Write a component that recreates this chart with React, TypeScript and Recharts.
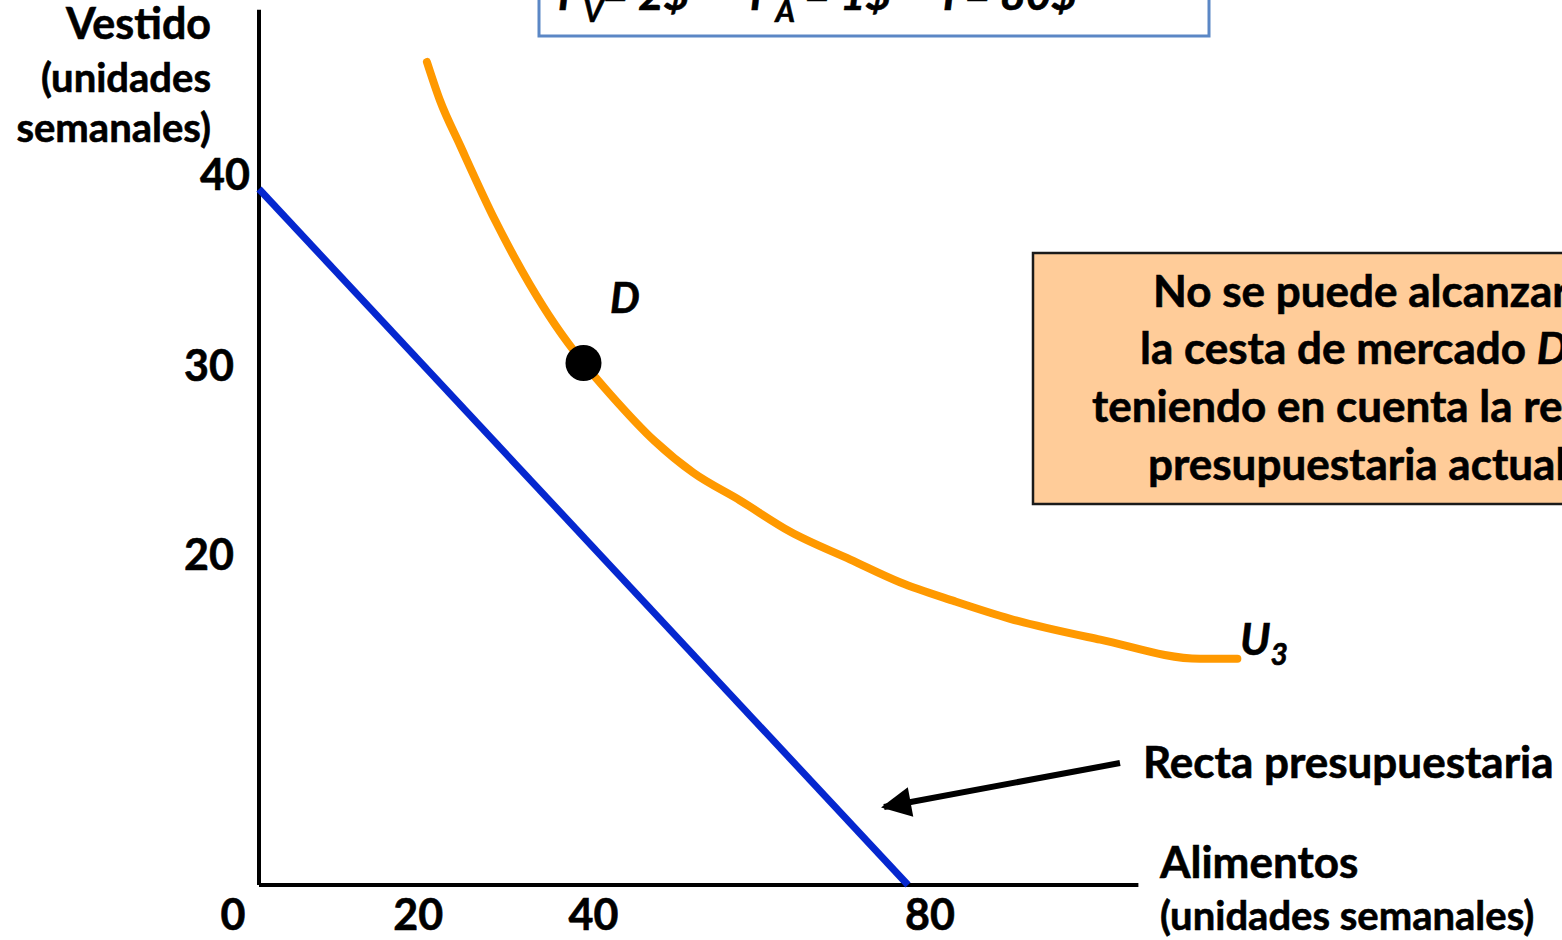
import {
  ComposedChart,
  Line,
  Scatter,
  XAxis,
  YAxis,
  ReferenceLine,
} from "recharts";

// Alimentos (x) / Vestido (y), unidades semanales
const xTicks = [0, 20, 40, 80];
const yTicks = [20, 30, 40];

const budgetLine = [
  { x: 0, y: 40 },
  { x: 80, y: 0 },
];

const curveU3 = [
  { x: 20.7, y: 47.3 },
  { x: 22.3, y: 45.1 },
  { x: 24.8, y: 42.5 },
  { x: 29.1, y: 38.2 },
  { x: 33.4, y: 34.5 },
  { x: 36.5, y: 32.2 },
  { x: 40, y: 30 },
  { x: 43.3, y: 28.2 },
  { x: 48.8, y: 25.5 },
  { x: 53.5, y: 23.7 },
  { x: 59.3, y: 22.1 },
  { x: 65.5, y: 20.3 },
  { x: 72.9, y: 18.7 },
  { x: 79.0, y: 17.4 },
  { x: 85.8, y: 16.3 },
  { x: 92.6, y: 15.3 },
  { x: 103.7, y: 14.1 },
  { x: 116.0, y: 13.0 },
  { x: 120.6, y: 13.0 },
];

const pointD = [{ x: 40, y: 30 }];

const FONT = "Lato, 'Open Sans', sans-serif";

const xTickShift: Record<number, number> = { 0: -26, 20: -3, 40: 10, 80: 22 };
const yTickShift: Record<number, [number, number]> = {
  40: [-1, -14],
  30: [-17, 3],
  20: [-17, 18],
};

function XTick(props: any) {
  const { x, y, payload } = props;
  const v = payload.value as number;
  return (
    <text x={x + (xTickShift[v] ?? 0)} y={y + 37} textAnchor="middle" fontFamily={FONT} fontWeight={700} fontSize={43} fill="#000" stroke="#000" strokeWidth={0.6}>
      {v}
    </text>
  );
}

function YTick(props: any) {
  const { x, y, payload } = props;
  const v = payload.value as number;
  const [dx, dy] = yTickShift[v] ?? [0, 0];
  return (
    <text x={x + dx} y={y + dy + 15} textAnchor="end" fontFamily={FONT} fontWeight={700} fontSize={43} fill="#000" stroke="#000" strokeWidth={0.6}>
      {v}
    </text>
  );
}

function Dot(props: any) {
  const { cx, cy } = props;
  return <circle cx={cx} cy={cy} r={18} fill="#000" />;
}

export default function App() {
  return (
    <div style={{ position: "fixed", left: 0, top: 0, width: 1562, height: 940, background: "#fff" }}>
      <ComposedChart width={1562} height={940} margin={{ top: 15, right: 5, bottom: 0, left: 0 }}>
        <XAxis type="number" dataKey="x" domain={[0, 160]} ticks={xTicks} height={55} axisLine={false} tickLine={false} tick={<XTick />} interval={0} />
        <YAxis type="number" dataKey="y" domain={[0, 50]} ticks={yTicks} width={259} axisLine={false} tickLine={false} tick={<YTick />} interval={0} />
        <ReferenceLine segment={[{ x: 0, y: 0 }, { x: 108.4, y: 0 }]} stroke="#000" strokeWidth={4} ifOverflow="visible" />
        <ReferenceLine segment={[{ x: 0, y: 0 }, { x: 0, y: 50.3 }]} stroke="#000" strokeWidth={4} ifOverflow="visible" />
        <Line data={budgetLine} dataKey="y" type="linear" stroke="#0527CF" strokeWidth={7} dot={false} isAnimationActive={false} />
        <Line data={curveU3} dataKey="y" type="monotone" stroke="#FF9900" strokeWidth={8} strokeLinecap="round" dot={false} isAnimationActive={false} />
        <Scatter data={pointD} dataKey="y" shape={<Dot />} isAnimationActive={false} />
      </ComposedChart>

      <svg width={1562} height={940} style={{ position: "absolute", left: 0, top: 0, pointerEvents: "none" }} fontFamily={FONT} fontWeight={700} fill="#000" stroke="#000" strokeWidth={0.6}>
        <defs>
          <marker id="head" viewBox="0 0 10 10" refX="9" refY="5" markerWidth="5.5" markerHeight="5" orient="auto-start-reverse">
            <path d="M0,0 L10,5 L0,10 z" fill="#000" stroke="none" />
          </marker>
        </defs>

        {/* price box at top */}
        <rect x={539} y={-10} width={670} height={46} fill="none" stroke="#5B87C5" strokeWidth={3} />
        <text y={10} fontSize={44} fontStyle="italic">
          <tspan x={558}>P</tspan>
          <tspan fontSize={30} dy={12}>V</tspan>
          <tspan dy={-12}>= 2$</tspan>
          <tspan x={750}>P</tspan>
          <tspan fontSize={30} dy={12}>A</tspan>
          <tspan dy={-12}> = 1$</tspan>
          <tspan x={943}>I = 80$</tspan>
        </text>

        {/* y axis title */}
        <text x={211} y={39} textAnchor="end" fontSize={43}>Vestido</text>
        <text x={211} y={92} textAnchor="end" fontSize={40}>(unidades</text>
        <text x={211} y={142} textAnchor="end" fontSize={40}>semanales)</text>

        {/* x axis title */}
        <text x={1160} y={878} fontSize={44}>Alimentos</text>
        <text x={1160} y={930} fontSize={40}>(unidades semanales)</text>

        {/* labels */}
        <text x={610} y={313} fontSize={42} fontStyle="italic">D</text>
        <text x={1240} y={655} fontSize={44} fontStyle="italic">
          U<tspan fontSize={30} dy={10}>3</tspan>
        </text>

        {/* arrow to budget line */}
        <line x1={1120} y1={763} x2={884} y2={807} stroke="#000" strokeWidth={6} markerEnd="url(#head)" />
        <text x={1143} y={778} fontSize={44}>Recta presupuestaria</text>

        {/* note box */}
        <rect x={1033} y={253} width={600} height={251} fill="#FFCC99" stroke="#1a1a1a" strokeWidth={2.5} />
        <text x={1153} y={307} fontSize={44}>No se puede alcanzar</text>
        <text x={1140} y={364} fontSize={44}>
          la cesta de mercado <tspan fontStyle="italic">D</tspan>
        </text>
        <text x={1092} y={422} fontSize={44}>teniendo en cuenta la restricción</text>
        <text x={1148} y={480} fontSize={44}>presupuestaria actual</text>
      </svg>
    </div>
  );
}
